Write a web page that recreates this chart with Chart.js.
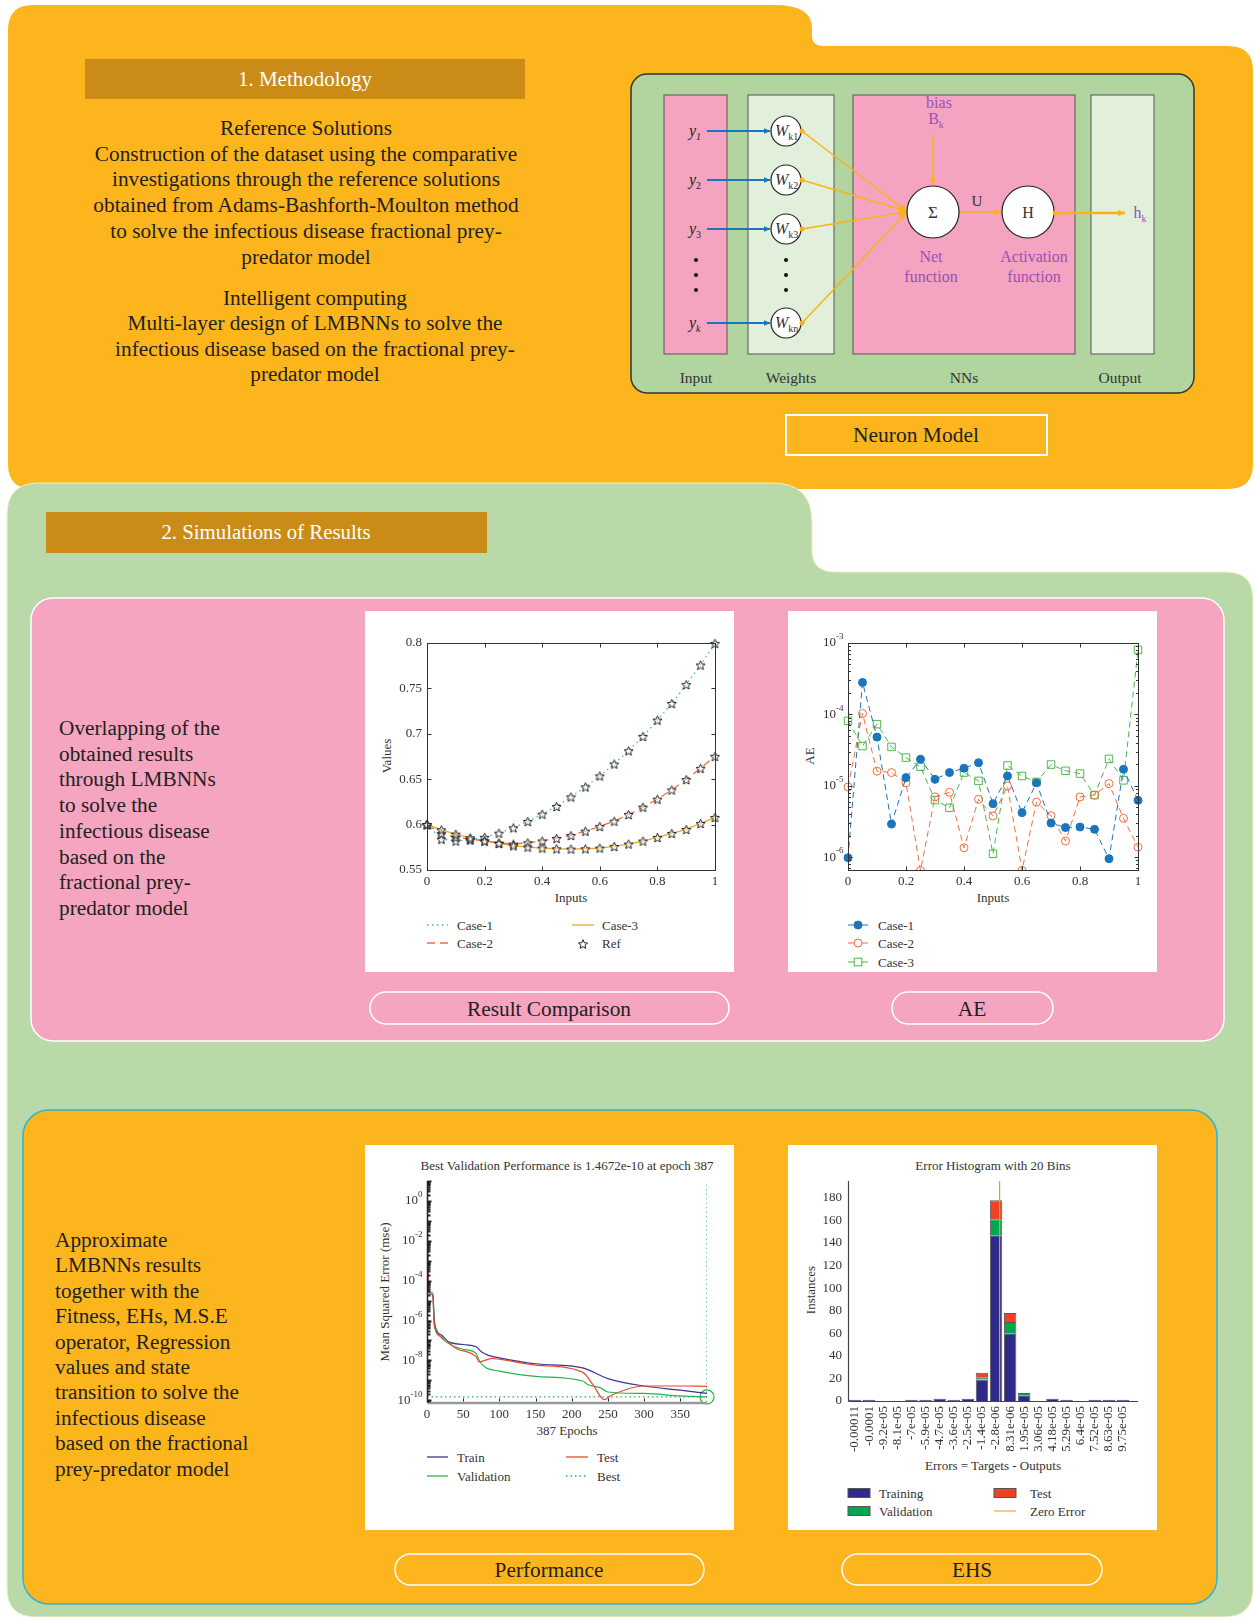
<!DOCTYPE html>
<html>
<head>
<meta charset="utf-8">
<script src="https://cdn.jsdelivr.net/npm/chart.js@4.4.0/dist/chart.umd.min.js"></script>
<style>
  body { margin: 0; background: #fff; }
  #page { position: relative; width: 1255px; height: 1617px; overflow: hidden; }
  #bg { position: absolute; left: 0; top: 0; }
  canvas { position: absolute; }
</style>
</head>
<body>
<div id="page">
<svg id="bg" width="1255" height="1617" xmlns="http://www.w3.org/2000/svg">
  <defs>
    <marker id="arrB" viewBox="0 0 10 10" refX="9" refY="5" markerWidth="7" markerHeight="7" markerUnits="userSpaceOnUse" orient="auto"><path d="M0,1 L10,5 L0,9 z" fill="#1c75bc"/></marker>
    <marker id="arrO" viewBox="0 0 10 10" refX="9" refY="5" markerWidth="8" markerHeight="8" markerUnits="userSpaceOnUse" orient="auto"><path d="M0,1 L10,5 L0,9 z" fill="#f9b21a"/></marker>
  </defs>
  <g font-family="Liberation Serif, Times New Roman, serif" fill="#231f20">
    <!-- panels -->
    <path d="M8,30 Q8,5 33,5 L775,5 Q812,5 812,28 L812,36 Q812,46 824,46 L1228,46 Q1253,46 1253,71 L1253,464 Q1253,489 1228,489 L33,489 Q8,489 8,464 Z" fill="#fcb51d"/>
    <path d="M7,515 Q7,483 39,483 L772,483 Q812,483 812,522 L812,550 Q812,572 835,572 L1226,572 Q1253,572 1253,599 L1253,1588 Q1253,1617 1224,1617 L36,1617 Q7,1617 7,1588 Z" fill="#b9d9a9" stroke="#f4efc6" stroke-width="1"/>
    <rect x="31" y="598" width="1193" height="443" rx="22" fill="#f5a5c0" stroke="#fff" stroke-width="1.5"/>
    <rect x="23" y="1110" width="1194" height="494" rx="26" fill="#fcb51d" stroke="#2bb5d9" stroke-width="1.5"/>

    <!-- section 1 -->
    <rect x="85" y="59" width="440" height="40" fill="#ca8b17"/>
    <text x="305" y="86" font-size="21" fill="#fff" text-anchor="middle">1. Methodology</text>
    <g font-size="21.3" text-anchor="middle">
      <text x="306" y="135">Reference Solutions</text>
      <text x="306" y="161">Construction of the dataset using the comparative</text>
      <text x="306" y="186">investigations through the reference solutions</text>
      <text x="306" y="212">obtained from Adams-Bashforth-Moulton method</text>
      <text x="306" y="238">to solve the infectious disease fractional prey-</text>
      <text x="306" y="264">predator model</text>
      <text x="315" y="305">Intelligent computing</text>
      <text x="315" y="330">Multi-layer design of LMBNNs to solve the</text>
      <text x="315" y="356">infectious disease based on the fractional prey-</text>
      <text x="315" y="381">predator model</text>
    </g>

    <!-- neuron model -->
    <rect x="631" y="74" width="563" height="319" rx="16" fill="#b2d5a0" stroke="#333" stroke-width="1.5"/>
    <rect x="664" y="95" width="63" height="259" fill="#f4a4c0" stroke="#555" stroke-width="1"/>
    <rect x="748" y="95" width="86" height="259" fill="#e2efda" stroke="#555" stroke-width="1"/>
    <rect x="853" y="95" width="222" height="259" fill="#f4a4c0" stroke="#555" stroke-width="1"/>
    <rect x="1091" y="95" width="63" height="259" fill="#e2efda" stroke="#555" stroke-width="1"/>
    <g font-size="15.5" text-anchor="middle" fill="#333">
      <text x="696" y="383">Input</text>
      <text x="791" y="383">Weights</text>
      <text x="964" y="383">NNs</text>
      <text x="1120" y="383">Output</text>
    </g>
    <g font-size="16" font-style="italic">
      <text x="689" y="136">y<tspan font-size="10" dy="4">1</tspan></text>
      <text x="689" y="185">y<tspan font-size="10" dy="4" font-style="normal">2</tspan></text>
      <text x="689" y="234">y<tspan font-size="10" dy="4" font-style="normal">3</tspan></text>
      <text x="689" y="328">y<tspan font-size="10" dy="4">k</tspan></text>
    </g>
    <g fill="#111">
      <circle cx="696" cy="260" r="2"/><circle cx="696" cy="275" r="2"/><circle cx="696" cy="290" r="2"/>
      <circle cx="786" cy="260" r="2"/><circle cx="786" cy="275" r="2"/><circle cx="786" cy="290" r="2"/>
    </g>
    <g stroke="#1c75bc" stroke-width="2" marker-end="url(#arrB)">
      <line x1="707" y1="131" x2="770" y2="131"/>
      <line x1="707" y1="180" x2="770" y2="180"/>
      <line x1="707" y1="229" x2="770" y2="229"/>
      <line x1="707" y1="323" x2="770" y2="323"/>
    </g>
    <g stroke="#f9b21a" stroke-width="1.5" marker-end="url(#arrO)">
      <line x1="802" y1="131" x2="906" y2="211"/>
      <line x1="802" y1="180" x2="906" y2="211"/>
      <line x1="802" y1="229" x2="906" y2="212"/>
      <line x1="802" y1="323" x2="906" y2="213"/>
      <line x1="933" y1="134" x2="933" y2="185"/>
      <line x1="960" y1="212" x2="1001" y2="212"/>
    </g>
    <line x1="1055" y1="213" x2="1125" y2="213" stroke="#f9b21a" stroke-width="2.5" marker-end="url(#arrO)"/>
    <g fill="#fff" stroke="#222" stroke-width="1.2">
      <circle cx="786" cy="131" r="15"/><circle cx="786" cy="180" r="15"/>
      <circle cx="786" cy="229" r="15"/><circle cx="786" cy="323" r="15"/>
      <circle cx="933" cy="212" r="26"/><circle cx="1028" cy="212" r="26"/>
    </g>
    <g fill="#f9b21a">
      <circle cx="802" cy="131" r="2.5"/><circle cx="802" cy="180" r="2.5"/>
      <circle cx="802" cy="229" r="2.5"/><circle cx="802" cy="323" r="2.5"/>
      <circle cx="1055" cy="213" r="2.5"/>
    </g>
    <g font-size="16" fill="#333">
      <text x="775" y="136" font-style="italic">W<tspan font-size="10" dy="4" font-style="normal">k1</tspan></text>
      <text x="775" y="185" font-style="italic">W<tspan font-size="10" dy="4" font-style="normal">k2</tspan></text>
      <text x="775" y="234" font-style="italic">W<tspan font-size="10" dy="4" font-style="normal">k3</tspan></text>
      <text x="775" y="328" font-style="italic">W<tspan font-size="10" dy="4" font-style="normal">kn</tspan></text>
      <text x="933" y="218" font-size="17" text-anchor="middle">Σ</text>
      <text x="1028" y="218" text-anchor="middle">H</text>
      <text x="977" y="206" font-size="15" text-anchor="middle">U</text>
    </g>
    <g font-size="16" fill="#9a4fb8" text-anchor="middle">
      <text x="939" y="108">bias</text>
      <text x="936" y="124">B<tspan font-size="10" dy="4">k</tspan></text>
      <text x="931" y="262">Net</text>
      <text x="931" y="282">function</text>
      <text x="1034" y="262">Activation</text>
      <text x="1034" y="282">function</text>
      <text x="1140" y="218">h<tspan font-size="10" dy="4">k</tspan></text>
    </g>
    <rect x="786" y="415" width="261" height="40" fill="none" stroke="#fff" stroke-width="2"/>
    <text x="916" y="442" font-size="21.5" text-anchor="middle">Neuron Model</text>

    <!-- section 2 -->
    <rect x="46" y="512" width="441" height="41" fill="#ca8b17"/>
    <text x="266" y="539" font-size="20.8" fill="#fff" text-anchor="middle">2. Simulations of Results</text>
    <g font-size="21.3">
      <text x="59" y="735">Overlapping of the</text>
      <text x="59" y="760.7">obtained results</text>
      <text x="59" y="786.4">through LMBNNs</text>
      <text x="59" y="812.1">to solve the</text>
      <text x="59" y="837.8">infectious disease</text>
      <text x="59" y="863.5">based on the</text>
      <text x="59" y="889.2">fractional prey-</text>
      <text x="59" y="914.9">predator model</text>
    </g>
    <g font-size="21.3">
      <text x="55" y="1247">Approximate</text>
      <text x="55" y="1272.4">LMBNNs results</text>
      <text x="55" y="1297.8">together with the</text>
      <text x="55" y="1323.2">Fitness, EHs, M.S.E</text>
      <text x="55" y="1348.6">operator, Regression</text>
      <text x="55" y="1374">values and state</text>
      <text x="55" y="1399.4">transition to solve the</text>
      <text x="55" y="1424.8">infectious disease</text>
      <text x="55" y="1450.2">based on the fractional</text>
      <text x="55" y="1475.6">prey-predator model</text>
    </g>

    <!-- chart boxes -->
    <rect x="365" y="611" width="369" height="361" fill="#fff"/>
    <rect x="788" y="611" width="369" height="361" fill="#fff"/>
    <rect x="365" y="1145" width="369" height="385" fill="#fff"/>
    <rect x="788" y="1145" width="369" height="385" fill="#fff"/>

    <!-- pills -->
    <g fill="none" stroke="#fff" stroke-width="1.5">
      <rect x="370" y="992" width="359" height="32" rx="16"/>
      <rect x="892" y="992" width="161" height="32" rx="16"/>
      <rect x="395" y="1554" width="309" height="31" rx="15.5"/>
      <rect x="842" y="1554" width="260" height="31" rx="15.5"/>
    </g>
    <g font-size="21.3" text-anchor="middle">
      <text x="549" y="1015.5">Result Comparison</text>
      <text x="972" y="1015.5">AE</text>
      <text x="549" y="1577">Performance</text>
      <text x="972" y="1577">EHS</text>
    </g>

    <!-- chart texts and legends -->
    <g font-size="13" fill="#333">
      <text x="571" y="902" text-anchor="middle">Inputs</text>
      <text transform="translate(391,756) rotate(-90)" text-anchor="middle">Values</text>
      <text x="993" y="902" text-anchor="middle">Inputs</text>
      <text transform="translate(814,756) rotate(-90)" text-anchor="middle">AE</text>
      <text x="567" y="1169.5" text-anchor="middle">Best Validation Performance is 1.4672e-10 at epoch 387</text>
      <text x="567" y="1435" text-anchor="middle">387 Epochs</text>
      <text transform="translate(389,1292) rotate(-90)" text-anchor="middle">Mean Squared Error (mse)</text>
      <text x="993" y="1169.5" text-anchor="middle">Error Histogram with 20 Bins</text>
      <text x="993" y="1470" text-anchor="middle">Errors = Targets - Outputs</text>
      <text transform="translate(815,1290) rotate(-90)" text-anchor="middle">Instances</text>

      <text x="457" y="929.5">Case-1</text>
      <text x="457" y="947.5">Case-2</text>
      <text x="602" y="929.5">Case-3</text>
      <text x="602" y="947.5">Ref</text>
      <text x="878" y="929.5">Case-1</text>
      <text x="878" y="947.5">Case-2</text>
      <text x="878" y="966.5">Case-3</text>
      <text x="457" y="1461.5">Train</text>
      <text x="457" y="1480.5">Validation</text>
      <text x="597" y="1461.5">Test</text>
      <text x="597" y="1480.5">Best</text>
      <text x="879" y="1497.5">Training</text>
      <text x="879" y="1515.5">Validation</text>
      <text x="1030" y="1497.5">Test</text>
      <text x="1030" y="1515.5">Zero Error</text>
    </g>
    <line x1="427" y1="925" x2="448" y2="925" stroke="#4aaee0" stroke-width="1.3" stroke-dasharray="1.5 3.5"/>
    <line x1="427" y1="943" x2="448" y2="943" stroke="#f26d3d" stroke-width="1.3" stroke-dasharray="8 5"/>
    <line x1="572" y1="925" x2="594" y2="925" stroke="#f5a623" stroke-width="1.3"/>
    <polygon id="legStar" fill="none" stroke="#222" stroke-width="1" points=""/>
    <line x1="848" y1="925" x2="868" y2="925" stroke="#1b75bc" stroke-width="1"/>
    <circle cx="858" cy="925" r="4" fill="#1b75bc" stroke="#1b75bc"/>
    <line x1="848" y1="943" x2="868" y2="943" stroke="#f26d3d" stroke-width="1"/>
    <circle cx="858" cy="943" r="4" fill="#fff" stroke="#f26d3d"/>
    <line x1="848" y1="962" x2="868" y2="962" stroke="#4cb848" stroke-width="1"/>
    <rect x="854.2" y="958.2" width="7.6" height="7.6" fill="#fff" stroke="#4cb848"/>
    <line x1="427" y1="1457" x2="448" y2="1457" stroke="#3b3592" stroke-width="1.3"/>
    <line x1="427" y1="1476" x2="448" y2="1476" stroke="#27b34b" stroke-width="1.3"/>
    <line x1="566" y1="1457" x2="588" y2="1457" stroke="#ea4a2f" stroke-width="1.3"/>
    <line x1="566" y1="1476" x2="588" y2="1476" stroke="#27b34b" stroke-width="1.3" stroke-dasharray="1.5 3"/>
    <rect x="848" y="1488.5" width="22" height="9" fill="#2e2a8a" stroke="#555"/>
    <rect x="848" y="1506.5" width="22" height="9" fill="#00a651" stroke="#555"/>
    <rect x="994" y="1488.5" width="22" height="9" fill="#ef4123" stroke="#555"/>
    <line x1="994" y1="1511" x2="1016" y2="1511" stroke="#f7931e" stroke-width="1"/>
  </g>
</svg>
<canvas id="cmpChart" width="369" height="361" style="left:365px;top:611px"></canvas>
<canvas id="aeChart" width="369" height="361" style="left:788px;top:611px"></canvas>
<canvas id="perfChart" width="369" height="385" style="left:365px;top:1145px"></canvas>
<canvas id="histChart" width="369" height="385" style="left:788px;top:1145px"></canvas>
</div>
<script>
// ---- data ----
const inputs = [0, 0.05, 0.1, 0.15, 0.2, 0.25, 0.3, 0.35, 0.4, 0.45, 0.5, 0.55, 0.6, 0.65, 0.7, 0.75, 0.8, 0.85, 0.9, 0.95, 1];

const case1Values = [0.600, 0.584, 0.582, 0.583, 0.586, 0.5906, 0.5965, 0.6035, 0.6115, 0.620, 0.6305, 0.6415, 0.6536, 0.6668, 0.6814, 0.6971, 0.7151, 0.7334, 0.7542, 0.7758, 0.7996];
const case2Values = [0.600, 0.590, 0.586, 0.584, 0.582, 0.5797, 0.5786, 0.580, 0.582, 0.5848, 0.588, 0.5928, 0.598, 0.6038, 0.6111, 0.6192, 0.628, 0.6382, 0.6496, 0.662, 0.6752];
const case3Values = [0.600, 0.5943, 0.5895, 0.5855, 0.582, 0.5793, 0.5767, 0.5753, 0.5742, 0.5734, 0.5731, 0.5734, 0.5742, 0.576, 0.5786, 0.5819, 0.5859, 0.5903, 0.5947, 0.6013, 0.6079];

const aeCase1 = [9.8e-7, 2.8e-4, 4.8e-5, 2.9e-6, 1.3e-5, 2.35e-5, 1.23e-5, 1.53e-5, 1.76e-5, 2.1e-5, 5.6e-6, 1.37e-5, 4.2e-6, 1.1e-5, 3.0e-6, 2.6e-6, 2.64e-6, 2.45e-6, 9.5e-7, 1.7e-5, 6.25e-6];
const aeCase2 = [9.6e-6, 1.03e-4, 1.6e-5, 1.53e-5, 1.1e-5, 6.5e-7, 7.0e-6, 8.1e-6, 1.35e-6, 6.45e-6, 3.77e-6, 9.9e-6, 6.5e-7, 5.9e-6, 3.8e-6, 1.68e-6, 6.96e-6, 7.4e-6, 1.07e-5, 3.5e-6, 1.38e-6];
const aeCase3 = [8.1e-5, 3.6e-5, 7.3e-5, 3.5e-5, 2.48e-5, 1.84e-5, 6.3e-6, 4.9e-6, 1.53e-5, 1.17e-5, 1.11e-6, 1.92e-5, 1.37e-5, 1.13e-5, 1.98e-5, 1.62e-5, 1.48e-5, 7.4e-6, 2.38e-5, 1.19e-5, 8.0e-4];

const trainEpochs = [0, 2, 8, 10, 12, 20, 30, 50, 68, 75, 85, 100, 150, 215, 250, 300, 350, 387];
const trainMse = [1.2, 2.75e-5, 1.9e-5, 8.7e-7, 3.3e-7, 1.86e-7, 8.5e-8, 6.3e-8, 4.8e-8, 2.7e-8, 1.8e-8, 1.35e-8, 6.8e-9, 4.2e-9, 1.23e-9, 5.2e-10, 3.2e-10, 2.2e-10];
const valEpochs = [0, 2, 8, 10, 15, 30, 50, 68, 72, 80, 100, 150, 215, 222, 240, 250, 300, 350, 387];
const valMse = [1.5, 4.1e-5, 2.3e-5, 1.26e-6, 2.7e-7, 7.1e-8, 3.6e-8, 2.2e-8, 1.02e-8, 4.7e-9, 2.9e-9, 1.6e-9, 9.3e-10, 6.2e-10, 4.2e-10, 2.6e-10, 2.2e-10, 1.66e-10, 1.4672e-10];
const testEpochs = [0, 2, 8, 10, 20, 40, 68, 72, 90, 100, 150, 215, 230, 245, 255, 300, 350, 387];
const testMse = [2.0, 2.75e-5, 1.9e-5, 5.9e-7, 1.5e-7, 4.0e-8, 1.5e-8, 8.5e-9, 1.26e-8, 1.15e-8, 5.8e-9, 2.6e-9, 5.6e-10, 1.07e-10, 1.78e-10, 5.2e-10, 5.2e-10, 5.0e-10];
const bestEpoch = 387;
const bestMse = 1.4672e-10;

const binLabels = ['-0.00011', '-0.0001', '-9.2e-05', '-8.1e-05', '-7e-05', '-5.9e-05', '-4.7e-05', '-3.6e-05', '-2.5e-05', '-1.4e-05',
  '-2.8e-06', '8.31e-06', '1.95e-05', '3.06e-05', '4.18e-05', '5.29e-05', '6.4e-05', '7.52e-05', '8.63e-05', '9.75e-05'];
const trainingCounts = [1, 1, 0, 0, 1, 1, 2, 1, 2, 19, 147, 60, 5, 0, 2, 1, 0, 1, 1, 1];
const validationCounts = [0, 0, 0, 0, 0, 0, 0, 0, 0, 2, 14, 10, 2, 0, 0, 0, 0, 0, 0, 0];
const testCounts = [0, 0, 0, 0, 0, 0, 0, 0, 0, 4, 17, 8, 0, 0, 0, 0, 0, 0, 0, 0];
const zeroError = 0;

// ---- helpers ----
const SERIF = "'Liberation Serif', 'Times New Roman', serif";
const INK = '#333';
Chart.defaults.font.family = SERIF;
Chart.defaults.font.size = 13;
Chart.defaults.color = INK;

const pts = (xs, ys) => xs.map((x, i) => ({ x: x, y: ys[i] }));
const shortNum = v => String(+Number(v).toFixed(3));

function starImage(r) {
  const s = Math.ceil(r * 2 + 3);
  const c = document.createElement('canvas');
  c.width = c.height = s;
  const g = c.getContext('2d');
  g.translate(s / 2, s / 2 + 0.6);
  g.beginPath();
  for (let i = 0; i < 10; i++) {
    const ang = -Math.PI / 2 + i * Math.PI / 5;
    const rr = i % 2 ? r * 0.45 : r;
    g.lineTo(rr * Math.cos(ang), rr * Math.sin(ang));
  }
  g.closePath();
  g.fillStyle = 'rgba(255,255,255,0.5)';
  g.fill();
  g.strokeStyle = '#222';
  g.lineWidth = 1;
  g.stroke();
  return c;
}

// legend star in the svg
(function () {
  const cx = 583, cy = 944.5, r = 4.8, p = [];
  for (let i = 0; i < 10; i++) {
    const ang = -Math.PI / 2 + i * Math.PI / 5;
    const rr = i % 2 ? r * 0.45 : r;
    p.push((cx + rr * Math.cos(ang)).toFixed(2) + ',' + (cy + rr * Math.sin(ang)).toFixed(2));
  }
  document.getElementById('legStar').setAttribute('points', p.join(' '));
})();

function seg(ctx, x1, y1, x2, y2) {
  ctx.beginPath(); ctx.moveTo(x1, y1); ctx.lineTo(x2, y2); ctx.stroke();
}

function drawPow(ctx, exp, xr, y) {
  ctx.fillStyle = INK;
  ctx.textAlign = 'right';
  ctx.textBaseline = 'middle';
  ctx.font = '9px ' + SERIF;
  const ew = ctx.measureText(String(exp)).width;
  ctx.fillText(String(exp), xr, y - 6);
  ctx.font = '13px ' + SERIF;
  ctx.fillText('10', xr - ew, y);
}

// frame, inward ticks, log labels
const axisDecor = {
  id: 'axisDecor',
  afterDraw(chart, args, o) {
    const { ctx, chartArea: a, scales: { x, y } } = chart;
    const L = Math.round(a.left) + 0.5, R = Math.round(a.right) + 0.5;
    const T = Math.round(a.top) + 0.5, B = Math.round(a.bottom) + 0.5;
    ctx.save();
    ctx.strokeStyle = o.color || '#333';
    ctx.lineWidth = 1;
    if (o.box) ctx.strokeRect(L, T, R - L, B - T);
    if (o.xTicks) {
      x.ticks.forEach(t => {
        const px = Math.round(x.getPixelForValue(t.value)) + 0.5;
        seg(ctx, px, B, px, B - o.xTicks);
        if (o.mirror) seg(ctx, px, T, px, T + o.xTicks);
      });
    }
    if (o.yTicks && y.type !== 'logarithmic') {
      y.ticks.forEach(t => {
        const py = Math.round(y.getPixelForValue(t.value)) + 0.5;
        seg(ctx, L, py, L + o.yTicks, py);
        if (o.mirror) seg(ctx, R, py, R - o.yTicks, py);
      });
    }
    if (y.type === 'logarithmic') {
      const e0 = Math.floor(Math.log10(y.min)), e1 = Math.ceil(Math.log10(y.max));
      ctx.lineWidth = o.minorWidth || 1;
      for (let e = e0; e <= e1; e++) {
        for (let k = 1; k <= 9; k++) {
          const v = k * Math.pow(10, e);
          if (v < y.min || v > y.max) continue;
          const py = Math.round(y.getPixelForValue(v)) + 0.5;
          const len = k === 1 ? o.yTicks : o.minorLen;
          seg(ctx, L, py, L + len, py);
          if (o.mirror) seg(ctx, R, py, R - len, py);
        }
      }
      (o.logLabels || []).forEach(e => drawPow(ctx, e, L - 5, y.getPixelForValue(Math.pow(10, e))));
    }
    ctx.restore();
  }
};

const noGrid = { display: false, drawTicks: false };
const noBorder = { display: false };

// ---- chart 1: result comparison ----
const refPoints = [case1Values, case2Values, case3Values].flatMap(v => pts(inputs, v));
new Chart(document.getElementById('cmpChart'), {
  type: 'line',
  data: {
    datasets: [
      { label: 'Ref', data: refPoints, showLine: false, pointStyle: starImage(4.8), pointRadius: 5, clip: false },
      { label: 'Case-1', data: pts(inputs, case1Values), borderColor: '#4aaee0', borderWidth: 1.3, borderDash: [1.5, 3.5], pointRadius: 0 },
      { label: 'Case-2', data: pts(inputs, case2Values), borderColor: '#f26d3d', borderWidth: 1.3, borderDash: [8, 5], pointRadius: 0 },
      { label: 'Case-3', data: pts(inputs, case3Values), borderColor: '#f5a623', borderWidth: 1.3, pointRadius: 0 }
    ]
  },
  options: {
    responsive: false, animation: false, events: [],
    layout: { padding: { left: 22, right: 19, top: 32, bottom: 72 } },
    plugins: { legend: { display: false }, tooltip: { enabled: false },
      axisDecor: { box: true, xTicks: 4, yTicks: 4, mirror: true } },
    scales: {
      x: { type: 'linear', min: 0, max: 1, ticks: { stepSize: 0.2, padding: 4, callback: shortNum }, grid: noGrid, border: noBorder,
        afterFit: s => { s.height = 30; } },
      y: { type: 'linear', min: 0.55, max: 0.8, ticks: { stepSize: 0.05, padding: 5, callback: shortNum }, grid: noGrid, border: noBorder,
        afterFit: s => { s.width = 40; } }
    }
  },
  plugins: [axisDecor]
});

// ---- chart 2: absolute error ----
const aeClip = { left: 10, right: 10, top: 10, bottom: 0 };
new Chart(document.getElementById('aeChart'), {
  type: 'line',
  data: {
    datasets: [
      { label: 'Case-1', data: pts(inputs, aeCase1), borderColor: '#1b75bc', borderWidth: 1, borderDash: [6, 4],
        pointRadius: 4, pointBackgroundColor: '#1b75bc', pointBorderColor: '#1b75bc', clip: aeClip },
      { label: 'Case-2', data: pts(inputs, aeCase2), borderColor: '#f26d3d', borderWidth: 1, borderDash: [6, 4],
        pointRadius: 4, pointBackgroundColor: 'rgba(255,255,255,0)', pointBorderColor: '#f26d3d', clip: aeClip },
      { label: 'Case-3', data: pts(inputs, aeCase3), borderColor: '#4cb848', borderWidth: 1, borderDash: [6, 4],
        pointStyle: 'rect', pointRadius: 5.3, pointBackgroundColor: 'rgba(255,255,255,0)', pointBorderColor: '#4cb848', clip: aeClip }
    ]
  },
  options: {
    responsive: false, animation: false, events: [],
    layout: { padding: { left: 20, right: 19, top: 32, bottom: 72 } },
    plugins: { legend: { display: false }, tooltip: { enabled: false },
      axisDecor: { box: true, xTicks: 4, yTicks: 4, minorLen: 2.5, mirror: true, logLabels: [-3, -4, -5, -6] } },
    scales: {
      x: { type: 'linear', min: 0, max: 1, ticks: { stepSize: 0.2, padding: 4, callback: shortNum }, grid: noGrid, border: noBorder,
        afterFit: s => { s.height = 30; } },
      y: { type: 'logarithmic', min: 6.6e-7, max: 1e-3, ticks: { display: false }, grid: noGrid, border: noBorder,
        afterFit: s => { s.width = 40; } }
    }
  },
  plugins: [axisDecor]
});

// ---- chart 3: performance ----
const perfDecor = {
  id: 'perfDecor',
  afterDraw(chart) {
    const { ctx, chartArea: a, scales: { x, y } } = chart;
    const L = Math.round(a.left) + 0.5, B = Math.round(a.bottom) + 0.5;
    ctx.save();
    ctx.strokeStyle = '#9a9a9a'; ctx.lineWidth = 2.5;
    seg(ctx, L, B + 0.5, a.right, B + 0.5);
    ctx.strokeStyle = '#222'; ctx.lineWidth = 1.5;
    seg(ctx, L, a.top, L, B);
    ctx.lineWidth = 1;
    x.ticks.forEach(t => {
      const px = Math.round(x.getPixelForValue(t.value)) + 0.5;
      seg(ctx, px, B - 1, px, B - 4);
    });
    ctx.lineWidth = 2;
    const e0 = Math.floor(Math.log10(y.min)), e1 = Math.ceil(Math.log10(y.max));
    for (let e = e0; e <= e1; e++) {
      for (let k = 1; k <= 9; k++) {
        const v = k * Math.pow(10, e);
        if (v < y.min || v > y.max) continue;
        const py = Math.round(y.getPixelForValue(v)) + 0.5;
        seg(ctx, L, py, L + (k === 1 ? 4 : 3), py);
      }
    }
    [0, -2, -4, -6, -8, -10].forEach(e => drawPow(ctx, e, L - 5, y.getPixelForValue(Math.pow(10, e))));
    ctx.restore();
  }
};
const perfMin = 8.2e-11, perfMax = 10;
new Chart(document.getElementById('perfChart'), {
  type: 'line',
  data: {
    datasets: [
      { label: 'Test', data: pts(testEpochs, testMse), borderColor: '#ea4a2f', borderWidth: 1.2, pointRadius: 0, cubicInterpolationMode: 'monotone' },
      { label: 'Train', data: pts(trainEpochs, trainMse), borderColor: '#3b3592', borderWidth: 1.2, pointRadius: 0, cubicInterpolationMode: 'monotone' },
      { label: 'Validation', data: pts(valEpochs, valMse), borderColor: '#27b34b', borderWidth: 1.2, pointRadius: 0, cubicInterpolationMode: 'monotone' },
      { label: 'Best', data: [{ x: 0, y: bestMse }, { x: bestEpoch, y: bestMse }], borderColor: '#27b34b', borderWidth: 1.2, borderDash: [1.5, 3], pointRadius: 0 },
      { label: 'BestEpoch', data: [{ x: bestEpoch, y: perfMin }, { x: bestEpoch, y: perfMax }], borderColor: '#27b34b', borderWidth: 1.2, borderDash: [1.5, 3], pointRadius: 0 },
      { label: 'BestPoint', data: [{ x: bestEpoch, y: bestMse }], showLine: false, pointRadius: 7, pointBorderWidth: 1.2,
        pointBorderColor: '#27b34b', pointBackgroundColor: 'rgba(0,0,0,0)', clip: false }
    ]
  },
  options: {
    responsive: false, animation: false, events: [],
    layout: { padding: { left: 22, right: 27, top: 36, bottom: 103 } },
    plugins: { legend: { display: false }, tooltip: { enabled: false } },
    scales: {
      x: { type: 'linear', min: 0, max: bestEpoch, ticks: { stepSize: 50, padding: 5, includeBounds: false }, grid: noGrid, border: noBorder,
        afterFit: s => { s.height = 25; } },
      y: { type: 'logarithmic', min: perfMin, max: perfMax, ticks: { display: false }, grid: noGrid, border: noBorder,
        afterFit: s => { s.width = 40; } }
    }
  },
  plugins: [perfDecor]
});

// ---- chart 4: error histogram ----
const histDecor = {
  id: 'histDecor',
  afterDraw(chart) {
    const { ctx, chartArea: a, scales: { x } } = chart;
    const L = Math.round(a.left) + 0.5, B = Math.round(a.bottom) + 0.5;
    ctx.save();
    ctx.strokeStyle = '#444'; ctx.lineWidth = 1.2;
    seg(ctx, L, a.top, L, B);
    seg(ctx, L, B, a.right + 8, B);
    // zero error line, interpolated between the bin centres around zero
    const centres = binLabels.map(parseFloat);
    let i = 0;
    while (i < centres.length - 2 && centres[i + 1] <= zeroError) i++;
    const f = (zeroError - centres[i]) / (centres[i + 1] - centres[i]);
    const p0 = x.getPixelForValue(i), p1 = x.getPixelForValue(i + 1);
    const px = p0 + f * (p1 - p0);
    ctx.strokeStyle = '#f7931e'; ctx.lineWidth = 1.2;
    seg(ctx, px, a.top, px, a.bottom);
    ctx.restore();
  }
};
const barStyle = { borderColor: '#5a5a5a', borderWidth: 1, barPercentage: 0.88, categoryPercentage: 1 };
new Chart(document.getElementById('histChart'), {
  type: 'bar',
  data: {
    labels: binLabels,
    datasets: [
      Object.assign({ label: 'Training', data: trainingCounts, backgroundColor: '#2e2a8a' }, barStyle),
      Object.assign({ label: 'Validation', data: validationCounts, backgroundColor: '#00a651' }, barStyle),
      Object.assign({ label: 'Test', data: testCounts, backgroundColor: '#ef4123' }, barStyle)
    ]
  },
  options: {
    responsive: false, animation: false, events: [],
    layout: { padding: { left: 20, right: 27, top: 36, bottom: 59 } },
    plugins: { legend: { display: false }, tooltip: { enabled: false } },
    scales: {
      x: { stacked: true, ticks: { autoSkip: false, maxRotation: 90, minRotation: 90, padding: 5 }, grid: noGrid, border: noBorder,
        afterFit: s => { s.height = 70; } },
      y: { stacked: true, min: 0, max: 195, ticks: { stepSize: 20, padding: 6, includeBounds: false }, grid: noGrid, border: noBorder,
        afterFit: s => { s.width = 40; } }
    }
  },
  plugins: [histDecor]
});
</script>
</body>
</html>
